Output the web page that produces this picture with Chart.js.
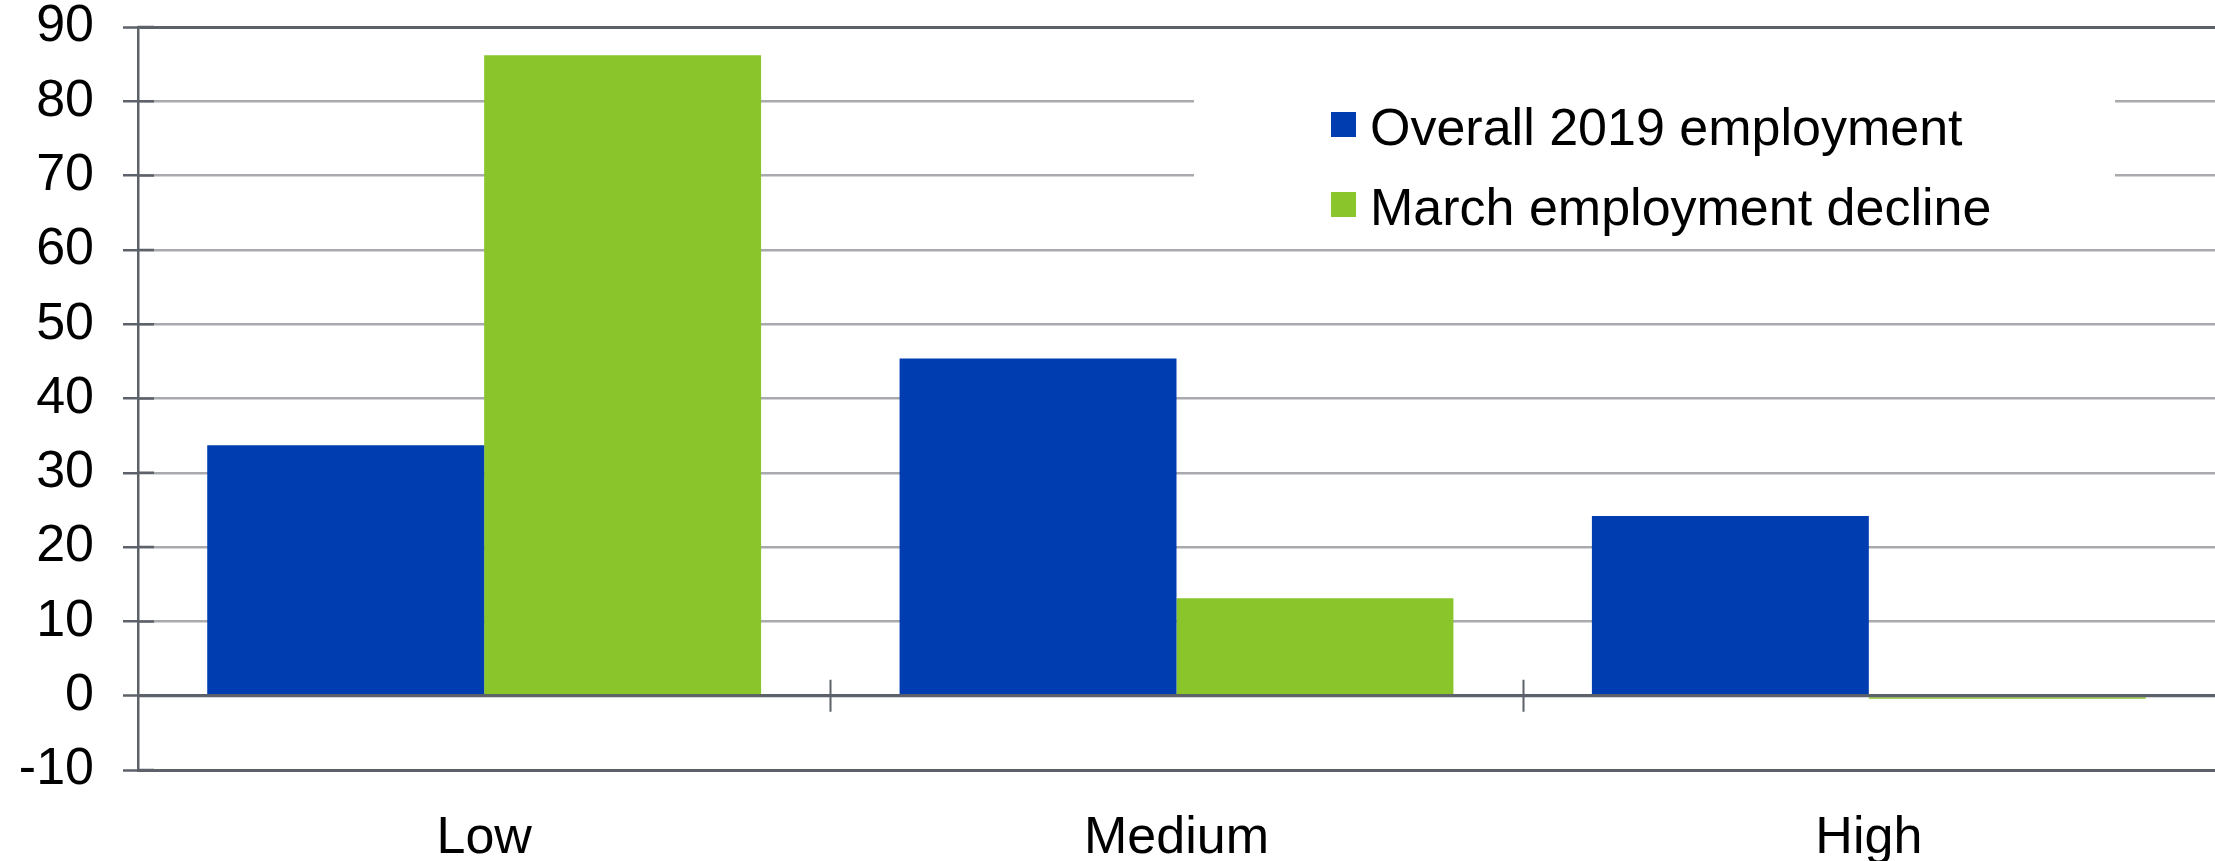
<!DOCTYPE html>
<html>
<head>
<meta charset="utf-8">
<script src="https://cdn.jsdelivr.net/npm/chart.js@4.4.0/dist/chart.umd.min.js"></script>
<style>
    html, body { margin: 0; padding: 0; background: #fff; }
    #wrap { width: 2215px; height: 861px; }
</style>
</head>
<body>
<div id="wrap"><canvas id="chart" width="2215" height="861"></canvas></div>
<script>
// Chart data
const categories = ['Low', 'Medium', 'High'];
const seriesNames = ['Overall 2019 employment', 'March employment decline'];
const overall2019 = [33.7, 45.4, 24.2];
const marchDecline = [86.2, 13.1, -0.4];
const yTicks = [-10, 0, 10, 20, 30, 40, 50, 60, 70, 80, 90];

(function() {
    const FONT = "'Liberation Sans', Arial, Helvetica, sans-serif";
    const DARK = '#5d6169';
    const GRID = '#a8aaad';
    const BLUE = '#003db0';
    const GREEN = '#8ac62b';

    const yMin = yTicks[0];
    const yMax = yTicks[yTicks.length - 1];
    const darkLines = [yMin, 0, yMax];

    // zero line over the bars, crossing tick marks, legend box
    const overlay = {
        id: 'overlay',
        afterDatasetsDraw(chart) {
            const ctx = chart.ctx;
            const area = chart.chartArea;
            const x = chart.scales.x;
            const y = chart.scales.y;
            const y0 = y.getPixelForValue(0);

            ctx.save();
            ctx.strokeStyle = DARK;
            ctx.lineWidth = 3;
            ctx.beginPath();
            ctx.moveTo(area.left, y0);
            ctx.lineTo(area.right, y0);
            ctx.stroke();

            ctx.lineWidth = 2;
            ctx.beginPath();
            for (let i = 0; i < categories.length - 1; i++) {
                const bx = Math.round((x.getPixelForValue(i) + x.getPixelForValue(i + 1)) / 2) + 0.5;
                ctx.moveTo(bx, y0 - 16);
                ctx.lineTo(bx, y0 + 16);
            }
            ctx.stroke();

            ctx.lineWidth = 2.5;
            ctx.beginPath();
            yTicks.forEach(v => {
                const ty = y.getPixelForValue(v);
                ctx.moveTo(area.left, ty);
                ctx.lineTo(area.left + 16, ty);
            });
            ctx.stroke();
            ctx.restore();
        },
        afterDraw(chart) {
            const ctx = chart.ctx;
            ctx.save();
            ctx.fillStyle = '#fff';
            ctx.fillRect(1194, 40, 921, 200);

            ctx.font = '52px ' + FONT;
            ctx.textBaseline = 'middle';
            ctx.textAlign = 'left';
            chart.data.datasets.forEach((ds, i) => {
                const top = 112 + i * 80;
                ctx.fillStyle = ds.backgroundColor;
                ctx.fillRect(1331, top, 25, 25);
                ctx.fillStyle = '#000';
                ctx.fillText(ds.label, 1370, top + 19);
            });
            ctx.restore();
        }
    };

    new Chart(document.getElementById('chart').getContext('2d'), {
        type: 'bar',
        data: {
            labels: categories,
            datasets: [{
                label: seriesNames[0],
                data: overall2019,
                backgroundColor: BLUE
            }, {
                label: seriesNames[1],
                data: marchDecline,
                backgroundColor: GREEN
            }]
        },
        options: {
            responsive: false,
            animation: false,
            devicePixelRatio: 1,
            categoryPercentage: 0.8,
            barPercentage: 1.0,
            layout: { padding: { top: 27, right: 0, bottom: 0, left: 0 } },
            plugins: {
                legend: { display: false },
                tooltip: { enabled: false }
            },
            scales: {
                x: {
                    grid: { display: true, drawOnChartArea: false, drawTicks: false },
                    border: { display: true, color: DARK, width: 3 },
                    ticks: {
                        color: '#000',
                        padding: 37,
                        maxRotation: 0,
                        font: { family: FONT, size: 52 }
                    },
                    afterFit: s => {
                        s.height = 91;
                        s.paddingLeft = 0;
                        s.paddingRight = 0;
                    }
                },
                y: {
                    min: yMin,
                    max: yMax,
                    ticks: {
                        stepSize: 10,
                        color: '#000',
                        padding: 29,
                        font: { family: FONT, size: 52 }
                    },
                    grid: {
                        color: c => darkLines.includes(c.tick.value) ? DARK : GRID,
                        lineWidth: c => darkLines.includes(c.tick.value) ? 3 : 2.5,
                        tickLength: 15,
                        tickColor: DARK,
                        tickWidth: 2.5
                    },
                    border: { color: DARK, width: 2.5 },
                    afterFit: s => {
                        s.width = 138;
                        s.paddingTop = 0;
                        s.paddingBottom = 0;
                    }
                }
            }
        },
        plugins: [overlay]
    });
})();
</script>
</body>
</html>
